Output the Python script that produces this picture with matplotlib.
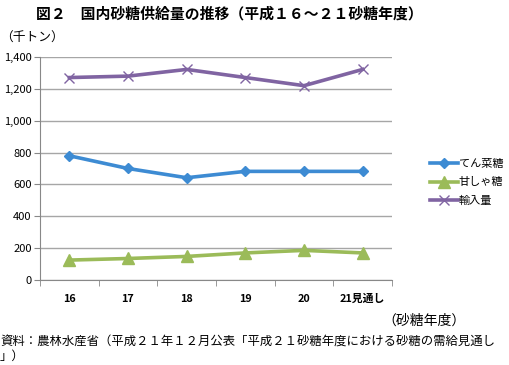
import matplotlib
matplotlib.use('Agg')
import matplotlib.pyplot as plt

plt.rcParams['font.family'] = ['Noto Sans CJK JP', 'DejaVu Sans']

years = ['16', '17', '18', '19', '20', '21見通し']
beet = [780, 700, 642, 682, 682, 682]
cane = [125, 135, 148, 170, 186, 170]
imports = [1271, 1280, 1322, 1271, 1220, 1322]
yticks = [0, 200, 400, 600, 800, 1000, 1200, 1400]

fig = plt.figure(figsize=(5.1, 3.65), dpi=100)
ax = fig.add_axes([40 / 510, 85 / 365, 352 / 510, 223 / 365])

x = range(len(years))
ax.plot(x, beet, color='#3d8bd3', lw=2.6, marker='D', ms=5, label='てん菜糖')
ax.plot(x, cane, color='#9bbb59', lw=2.6, marker='^', ms=8, label='甘しゃ糖')
ax.plot(x, imports, color='#8064a2', lw=2.6, marker='x', ms=7, mew=1, label='輸入量')

ax.set_xlim(-0.5, len(years) - 0.5)
ax.set_ylim(0, 1400)
ax.set_yticks(yticks)
ax.set_yticklabels([f'{v:,}' for v in yticks], fontsize=8)
ax.set_xticks(x)
ax.set_xticklabels(years, fontsize=7.8, fontweight='bold')
ax.set_xticks([i - 0.5 for i in range(len(years) + 1)], minor=True)
ax.tick_params(axis='x', which='major', length=0, pad=10)
ax.tick_params(axis='x', which='minor', length=4, color='#888888')
ax.tick_params(axis='y', length=4, color='#888888', pad=2)
ax.grid(axis='y', color='#a6a6a6', lw=1)
ax.set_axisbelow(True)
for s in ['top', 'right']:
    ax.spines[s].set_visible(False)
for s in ['left', 'bottom']:
    ax.spines[s].set_color('#888888')

ax.legend(loc='center left', bbox_to_anchor=(420 / 510, 0.5), bbox_transform=fig.transFigure,
          frameon=False, fontsize=8, handlelength=2.5, labelspacing=0.75, handletextpad=0.1)

fig.text(229 / 510, 1 - 14 / 365, '図２　国内砂糖供給量の推移（平成１６～２１砂糖年度）',
         ha='center', va='center', fontsize=10.7, fontweight='bold')
fig.text(0, 1 - 38 / 365, '（千トン）', ha='left', va='center', fontsize=9.2)
fig.text(466 / 510, 1 - 321 / 365, '（砂糖年度）', ha='right', va='center', fontsize=10)
fig.text(0, 1 - 342 / 365, '資料：農林水産省（平成２１年１２月公表「平成２１砂糖年度における砂糖の需給見通し',
         ha='left', va='center', fontsize=8.9)
fig.text(0, 1 - 356 / 365, '」）', ha='left', va='center', fontsize=8.9)

fig.savefig('out.png', dpi=100)
